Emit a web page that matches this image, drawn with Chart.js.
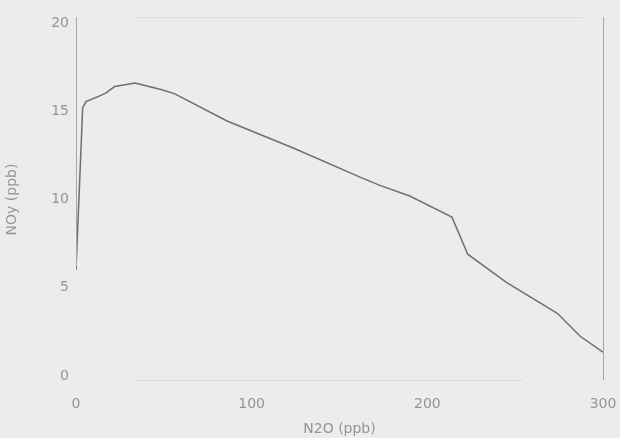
<!DOCTYPE html>
<html>
<head>
<meta charset="utf-8">
<script src="https://cdn.jsdelivr.net/npm/chart.js@4.4.1/dist/chart.umd.min.js"></script>
<style>
  html, body { margin: 0; padding: 0; background: #ececec; }
  #wrap { width: 620px; height: 438px; position: relative; }
  canvas { display: block; }
</style>
</head>
<body>
<div id="wrap"><canvas id="c" width="620" height="438"></canvas></div>
<script>
// N2O (ppb) along the profile
const n2o = [0, 3.8, 5.7, 16.5, 22, 33.6, 47.8, 56, 86, 124, 162, 173, 190, 214, 223, 245, 274, 287, 300];
// NOy (ppb) at each N2O value
const noy = [6.0, 15.2, 15.55, 16.0, 16.4, 16.6, 16.25, 16.0, 14.45, 12.9, 11.25, 10.8, 10.2, 9.0, 6.9, 5.3, 3.55, 2.25, 1.35];
const xTicks = [0, 100, 200, 300];
const yTicks = [0, 5, 10, 15, 20];

const textColor = '#959595';
const fontFamily = '"DejaVu Sans", "Liberation Sans", sans-serif';

// Frame: solid side lines, faint top and bottom lines
const framePlugin = {
  id: 'frame',
  afterDatasetsDraw(chart) {
    const { ctx, chartArea: a } = chart;
    ctx.save();
    ctx.lineWidth = 1;
    ctx.strokeStyle = '#dcdcdc';
    ctx.beginPath();
    ctx.moveTo(a.left + 60, a.top - 5.5); ctx.lineTo(a.right - 20, a.top - 5.5);
    ctx.moveTo(a.left + 60, a.bottom + 4.5); ctx.lineTo(a.right - 80, a.bottom + 4.5);
    ctx.stroke();
    ctx.strokeStyle = '#a6a6a6';
    ctx.beginPath();
    ctx.moveTo(a.left + 0.5, a.top - 6); ctx.lineTo(a.left + 0.5, a.bottom - 110);
    ctx.moveTo(a.right + 0.5, a.top - 6); ctx.lineTo(a.right + 0.5, a.bottom + 4);
    ctx.stroke();
    ctx.restore();
  }
};

new Chart(document.getElementById('c'), {
  type: 'scatter',
  data: {
    datasets: [{
      data: n2o.map((x, i) => ({ x: x, y: noy[i] })),
      showLine: true,
      borderColor: '#6f6f6f',
      borderWidth: 1.5,
      pointRadius: 0,
      tension: 0
    }]
  },
  options: {
    responsive: false,
    animation: false,
    layout: { padding: { top: 23, right: 17, left: 4, bottom: 0 } },
    plugins: { legend: { display: false }, tooltip: { enabled: false } },
    scales: {
      x: {
        type: 'linear',
        min: 0, max: 300,
        afterBuildTicks: s => { s.ticks = xTicks.map(v => ({ value: v })); },
        afterFit: s => { s.height = 62; s.paddingLeft = 0; s.paddingRight = 0; },
        grid: { display: false, drawTicks: false },
        border: { display: false },
        ticks: { color: textColor, font: { family: fontFamily, size: 14 }, padding: 20, maxRotation: 0 },
        title: { display: true, text: 'N2O (ppb)', color: textColor, font: { family: fontFamily, size: 14 }, padding: { top: -2, bottom: 0 } }
      },
      y: {
        min: 0, max: 20,
        afterBuildTicks: s => { s.ticks = yTicks.map(v => ({ value: v })); },
        afterFit: s => { s.width = 72; s.paddingTop = 0; s.paddingBottom = 0; },
        grid: { display: false, drawTicks: false },
        border: { display: false },
        ticks: { color: textColor, font: { family: fontFamily, size: 14 }, padding: 7 },
        title: { display: true, text: 'NOy (ppb)', color: textColor, font: { family: fontFamily, size: 14 }, padding: { top: 0, bottom: 0 } }
      }
    }
  },
  plugins: [framePlugin]
});
</script>
</body>
</html>
